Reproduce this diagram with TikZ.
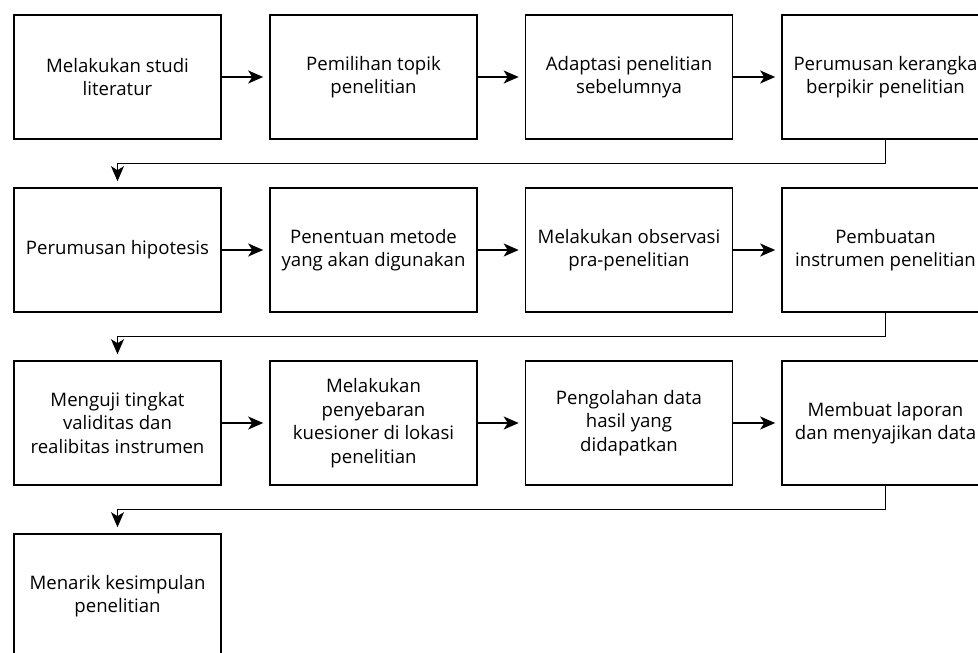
\documentclass[tikz,border=0pt]{standalone}
\usepackage{fontspec}
\setmainfont{Open Sans}
\usetikzlibrary{arrows.meta}
\begin{document}
\begin{tikzpicture}[x=1pt,y=-1pt,
  stepbox/.style={draw=black,line width=1.6pt,minimum width=207pt,minimum height=124pt,
    inner sep=0pt,align=center,font=\fontsize{18.6}{23.6}\selectfont},
  flow/.style={line width=1.3pt,-{Stealth[length=15pt,width=13pt,inset=4pt]},shorten >=6pt},
  turn/.style={line width=1.1pt,-{Stealth[length=15pt,width=13pt,inset=4pt]},shorten >=6pt}]
\useasboundingbox (0,0) rectangle (978,653);
\node[stepbox] (a1) at (117.5,77) {Melakukan studi\\literatur};
\node[stepbox] (a2) at (373.5,77) {Pemilihan topik\\penelitian};
\node[stepbox] (a3) at (629,77) {Adaptasi penelitian\\sebelumnya};
\node[stepbox] (a4) at (885.5,77) {Perumusan kerangka\\berpikir penelitian};
\node[stepbox] (b1) at (117.5,250) {Perumusan hipotesis};
\node[stepbox] (b2) at (373.5,250) {Penentuan metode\\yang akan digunakan};
\node[stepbox] (b3) at (629,250) {Melakukan observasi\\pra-penelitian};
\node[stepbox] (b4) at (885.5,250) {Pembuatan\\instrumen penelitian};
\node[stepbox] (c1) at (117.5,423) {Menguji tingkat\\validitas dan\\realibitas instrumen};
\node[stepbox] (c2) at (373.5,423) {Melakukan\\penyebaran\\kuesioner di lokasi\\penelitian};
\node[stepbox] (c3) at (629,423) {Pengolahan data\\hasil yang\\didapatkan};
\node[stepbox] (c4) at (885.5,423) {Membuat laporan\\dan menyajikan data};
\node[stepbox] (d1) at (117.5,596) {Menarik kesimpulan\\penelitian};
\draw[flow] (a1.east) -- (a2.west);
\draw[flow] (a2.east) -- (a3.west);
\draw[flow] (a3.east) -- (a4.west);
\draw[flow] (b1.east) -- (b2.west);
\draw[flow] (b2.east) -- (b3.west);
\draw[flow] (b3.east) -- (b4.west);
\draw[flow] (c1.east) -- (c2.west);
\draw[flow] (c2.east) -- (c3.west);
\draw[flow] (c3.east) -- (c4.west);
\draw[turn] (a4.south) -- ++(0,24) -| (b1.north);
\draw[turn] (b4.south) -- ++(0,24) -| (c1.north);
\draw[turn] (c4.south) -- ++(0,24) -| (d1.north);
\end{tikzpicture}
\end{document}
